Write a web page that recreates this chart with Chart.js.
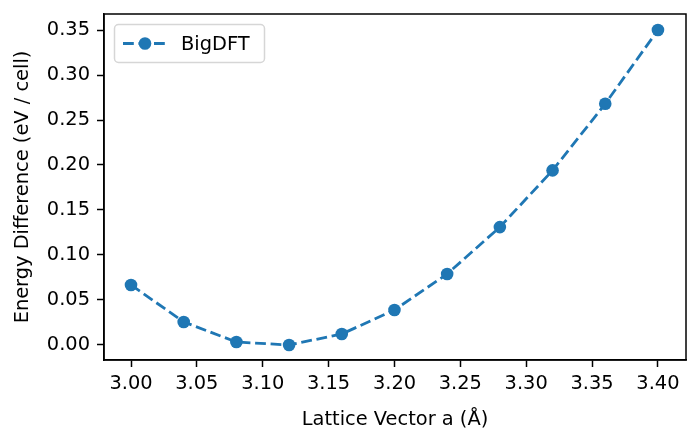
<!DOCTYPE html>
<html>
<head>
<meta charset="utf-8">
<script src="https://cdn.jsdelivr.net/npm/chart.js@4/dist/chart.umd.min.js"></script>
<style>
  html, body { margin: 0; padding: 0; background: #fff; }
  #wrap { width: 700px; height: 448px; }
</style>
</head>
<body>
<div id="wrap"><canvas id="chart" width="700" height="448"></canvas></div>
<script>
const latticeA = [3.00, 3.04, 3.08, 3.12, 3.16, 3.20, 3.24, 3.28, 3.32, 3.36, 3.40];
const energyDiff = [0.0667, 0.0256, 0.0033, 0.0, 0.0122, 0.0389, 0.0789, 0.131, 0.194, 0.268, 0.350];
const xTicks = [3.00, 3.05, 3.10, 3.15, 3.20, 3.25, 3.30, 3.35, 3.40];
const yTicks = [0.00, 0.05, 0.10, 0.15, 0.20, 0.25, 0.30, 0.35];

const blue = '#1f77b4';
const font = 'DejaVu Sans';
const fs = 19.4;
const dash = [10.8, 4.7];

// legend drawn like matplotlib: dashed line with a marker in a rounded box
const mplLegend = {
  id: 'mplLegend',
  afterDraw(chart) {
    const ctx = chart.ctx;
    const area = chart.chartArea;
    const ds = chart.data.datasets[0];
    const x0 = area.left + 10, y0 = area.top + 10, w = 150, h = 38;
    ctx.save();
    ctx.beginPath();
    ctx.roundRect(x0 + 0.5, y0 + 0.5, w, h, 4);
    ctx.fillStyle = 'rgba(255,255,255,0.8)';
    ctx.fill();
    ctx.strokeStyle = '#d6d6d6';
    ctx.lineWidth = 1.5;
    ctx.stroke();
    const cy = y0 + h / 2 + 0.5;
    ctx.strokeStyle = ds.borderColor;
    ctx.lineWidth = ds.borderWidth;
    ctx.setLineDash(dash);
    ctx.beginPath();
    ctx.moveTo(x0 + 9, cy);
    ctx.lineTo(x0 + 53, cy);
    ctx.stroke();
    ctx.setLineDash([]);
    ctx.beginPath();
    ctx.arc(x0 + 31, cy, 6.3, 0, Math.PI * 2);
    ctx.fillStyle = ds.backgroundColor;
    ctx.fill();
    ctx.fillStyle = '#000';
    ctx.font = fs + 'px "' + font + '"';
    ctx.textBaseline = 'middle';
    ctx.fillText(ds.label, x0 + 67, cy + 1);
    ctx.restore();
  }
};

new Chart(document.getElementById('chart'), {
  type: 'line',
  data: {
    datasets: [{
      label: 'BigDFT',
      data: latticeA.map((x, i) => ({ x, y: energyDiff[i] })),
      borderColor: blue,
      backgroundColor: blue,
      borderWidth: 2.8,
      borderDash: dash,
      pointRadius: 6.3,
      pointBorderWidth: 0,
      pointBackgroundColor: blue,
      tension: 0,
      fill: false
    }]
  },
  options: {
    responsive: false,
    animation: false,
    layout: { padding: { top: 14, right: 14, left: 0, bottom: 0 } },
    plugins: {
      legend: { display: false },
      tooltip: { enabled: false }
    },
    scales: {
      x: {
        type: 'linear',
        min: 2.9795,
        max: 3.4213,
        afterBuildTicks(scale) { scale.ticks = xTicks.map(v => ({ value: v })); },
        afterFit(scale) {
          scale.height = 88;
          scale.paddingLeft = 0;
          scale.paddingRight = 0;
        },
        grid: { display: true, drawOnChartArea: false, drawTicks: true, tickLength: 7, tickColor: '#000', tickWidth: 1.5 },
        border: { display: true, color: '#000', width: 1.5 },
        ticks: {
          color: '#000',
          font: { family: font, size: fs },
          padding: 5,
          maxRotation: 0,
          autoSkip: false,
          callback: v => v.toFixed(2)
        },
        title: {
          display: true,
          text: 'Lattice Vector a (Å)',
          color: '#000',
          font: { family: font, size: fs },
          padding: { top: 0, bottom: 16 }
        }
      },
      y: {
        type: 'linear',
        min: -0.0167,
        max: 0.3678,
        afterBuildTicks(scale) { scale.ticks = yTicks.map(v => ({ value: v })); },
        afterFit(scale) {
          scale.width = 104;
          scale.paddingTop = 0;
          scale.paddingBottom = 0;
        },
        grid: { display: true, drawOnChartArea: false, drawTicks: true, tickLength: 7, tickColor: '#000', tickWidth: 1.5 },
        border: { display: true, color: '#000', width: 1.5 },
        ticks: {
          color: '#000',
          font: { family: font, size: fs },
          padding: 7,
          autoSkip: false,
          callback: v => v.toFixed(2)
        },
        title: {
          display: true,
          text: 'Energy Difference (eV / cell)',
          color: '#000',
          font: { family: font, size: fs },
          padding: { top: 11, bottom: 0 }
        }
      }
    }
  },
  plugins: [mplLegend, {
    id: 'frame',
    afterDraw(chart) {
      const { ctx, chartArea: a } = chart;
      ctx.save();
      ctx.strokeStyle = '#000';
      ctx.lineWidth = 1.5;
      ctx.strokeRect(a.left, a.top, a.right - a.left, a.bottom - a.top);
      ctx.restore();
    }
  }]
});
</script>
</body>
</html>
